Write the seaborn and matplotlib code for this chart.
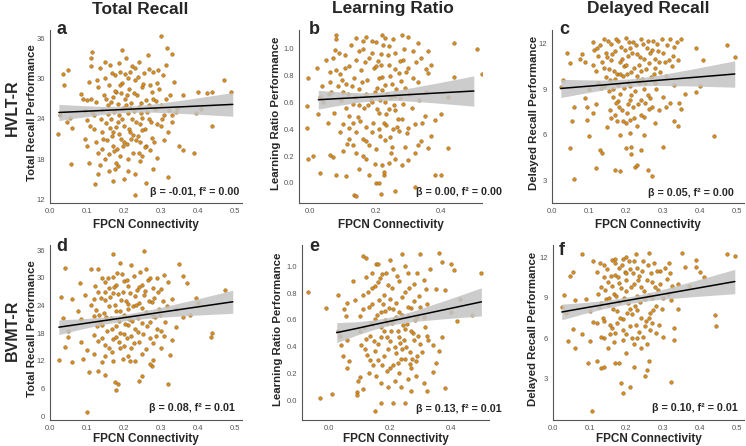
import numpy as np
import pandas as pd
import matplotlib
matplotlib.use("Agg")
import matplotlib.pyplot as plt
from matplotlib.ticker import FormatStrFormatter
import seaborn as sns

# ---- data (FPCN connectivity, performance) ----
hvlt_total = [
    (0.30, 36.3), (0.318, 34.6), (0.115, 34.0), (0.196, 34.2), (0.33, 33.6), (0.05, 31.2), (0.036, 30.6),
    (0.47, 29.7), (0.037, 29.0), (0.49, 28.0), (0.44, 22.9), (0.022, 21.8), (0.045, 23.5), (0.058, 17.3),
    (0.122, 14.3), (0.17, 14.8), (0.23, 12.7), (0.32, 15.4), (0.39, 19.0), (0.36, 19.3), (0.35, 20.0),
    (0.395, 24.8), (0.41, 25.4), (0.36, 27.5), (0.425, 27.8), (0.40, 28.0), (0.44, 28.0), (0.06, 22.7),
    (0.055, 24.2), (0.028, 24.5), (0.085, 27.7), (0.09, 27.0), (0.10, 26.8), (0.095, 25.2), (0.10, 23.8),
    (0.095, 21.0), (0.10, 20.0), (0.105, 17.5), (0.13, 15.8), (0.13, 19.0), (0.15, 18.0), (0.16, 16.2),
    (0.185, 17.0), (0.21, 16.2), (0.23, 15.8), (0.245, 17.8), (0.28, 16.5), (0.29, 18.2), (0.31, 20.8),
    (0.30, 23.0), (0.33, 23.5), (0.345, 25.6), (0.33, 24.5),
    (0.12, 24.5), (0.125, 26.5), (0.13, 28.8), (0.135, 31.5), (0.14, 22.0), (0.142, 25.3), (0.145, 27.6),
    (0.15, 30.0), (0.152, 23.4), (0.155, 20.8), (0.158, 26.0), (0.16, 29.0), (0.162, 32.0), (0.165, 24.0),
    (0.168, 21.5), (0.17, 27.2), (0.172, 25.0), (0.175, 30.5), (0.178, 22.8), (0.18, 28.0), (0.182, 19.5),
    (0.185, 26.2), (0.188, 24.5), (0.19, 31.0), (0.192, 21.0), (0.195, 29.4), (0.198, 25.6), (0.20, 23.0),
    (0.202, 27.0), (0.205, 33.0), (0.208, 20.2), (0.21, 30.0), (0.212, 24.8), (0.215, 28.5), (0.218, 22.0),
    (0.22, 26.4), (0.222, 31.8), (0.225, 19.0), (0.228, 25.2), (0.23, 29.8), (0.232, 23.5), (0.235, 27.5),
    (0.238, 21.5), (0.24, 32.5), (0.242, 25.8), (0.245, 20.5), (0.248, 28.8), (0.25, 24.2), (0.255, 30.8),
    (0.258, 22.5), (0.26, 26.8), (0.265, 33.5), (0.268, 24.0), (0.27, 29.0), (0.275, 21.2), (0.278, 27.0),
    (0.28, 31.0), (0.285, 25.5), (0.29, 23.2), (0.295, 28.5), (0.30, 26.0), (0.305, 30.5), (0.31, 24.5),
    (0.315, 32.0), (0.32, 22.0), (0.325, 27.5), (0.335, 29.5), (0.34, 25.0),
    (0.105, 29.5), (0.11, 31.8), (0.112, 27.0), (0.115, 25.0), (0.118, 22.5), (0.108, 23.0),
    (0.14, 19.5), (0.16, 18.8), (0.17, 20.0), (0.18, 17.5), (0.19, 18.5), (0.20, 20.5), (0.21, 18.0),
    (0.22, 21.0), (0.24, 19.0), (0.25, 18.5), (0.26, 20.0), (0.27, 19.3), (0.125, 20.5), (0.135, 17.2),
    (0.20, 15.0), (0.175, 16.5), (0.26, 14.5),
    (0.112, 33.0), (0.128, 29.8), (0.138, 24.0), (0.148, 32.5), (0.153, 27.0), (0.163, 22.7), (0.167, 30.8),
    (0.173, 19.2), (0.177, 28.2), (0.183, 23.6), (0.187, 32.3), (0.193, 27.8), (0.197, 20.0), (0.203, 30.6),
    (0.207, 26.0), (0.213, 22.5), (0.217, 31.0), (0.223, 24.0), (0.227, 27.9), (0.233, 20.8), (0.237, 30.2),
    (0.243, 23.2), (0.247, 26.3), (0.253, 29.2), (0.257, 19.8), (0.263, 25.0), (0.267, 31.4), (0.273, 23.6),
    (0.277, 28.0), (0.283, 20.6), (0.287, 26.6), (0.293, 31.2), (0.303, 24.0), (0.313, 27.0), (0.323, 25.3),
    (0.143, 21.0), (0.157, 24.7), (0.171, 22.0), (0.189, 29.0), (0.209, 27.6), (0.229, 31.5), (0.249, 22.3),
    (0.269, 26.0), (0.289, 29.3), (0.166, 26.5), (0.196, 24.0), (0.226, 21.6), (0.246, 24.8), (0.186, 21.8),
    (0.216, 25.6),
]
hvlt_ratio = [
    (-0.01, 0.57), (-0.01, 0.41), (-0.005, 0.78), (-0.005, 0.18), (0.01, 0.20), (0.02, 0.86), (0.03, 0.07),
    (0.025, 0.51), (0.03, 0.64), (0.04, 0.60), (0.035, 0.72), (0.06, 0.75), (0.055, 0.45), (0.06, 0.21),
    (0.07, 0.19), (0.08, 0.06), (0.11, 0.05), (0.135, -0.09), (0.14, -0.10), (0.215, -0.08), (0.20, 0.0),
    (0.21, 0.0), (0.26, -0.06), (0.32, -0.03), (0.38, 0.06), (0.40, 0.06), (0.42, 0.26), (0.40, 0.51),
    (0.44, 0.79), (0.44, 1.04), (0.51, 1.0), (0.525, 0.81), (0.42, 0.64), (0.37, 0.35), (0.36, 0.26),
    (0.38, 0.47), (0.37, 0.88), (0.36, 0.98), (0.33, 1.04), (0.30, 1.09), (0.28, 1.10), (0.08, 1.10),
    (0.08, 1.07), (0.14, 1.08), (0.16, 1.06), (0.10, 0.44), (0.09, 0.38), (0.10, 0.24), (0.12, 0.50),
    (0.13, 0.28), (0.14, 0.22), (0.15, 0.10), (0.17, 0.18), (0.18, 0.06), (0.22, 0.13), (0.225, 0.06),
    (0.225, 0.08), (0.24, 0.15), (0.26, 0.18), (0.28, 0.13), (0.30, 0.17), (0.32, 0.22), (0.33, 0.28),
    (0.34, 0.31),
    (0.05, 0.92), (0.06, 0.83), (0.065, 0.68), (0.07, 0.93), (0.075, 0.99), (0.08, 0.84), (0.085, 0.72),
    (0.09, 0.81), (0.095, 0.62), (0.10, 0.68), (0.105, 0.95), (0.11, 0.74), (0.115, 0.66), (0.12, 0.87),
    (0.125, 1.03), (0.13, 0.59), (0.135, 0.78), (0.14, 0.92), (0.145, 0.49), (0.15, 0.70), (0.155, 0.84),
    (0.16, 1.0), (0.165, 0.56), (0.17, 0.42), (0.175, 0.77), (0.18, 0.93), (0.185, 0.62), (0.19, 0.38),
    (0.195, 0.86), (0.20, 1.05), (0.205, 0.71), (0.21, 0.52), (0.215, 0.96), (0.22, 0.79), (0.225, 0.45),
    (0.23, 1.08), (0.235, 0.66), (0.24, 0.88), (0.245, 0.34), (0.25, 0.74), (0.255, 0.58), (0.26, 0.97),
    (0.265, 0.42), (0.27, 0.82), (0.275, 0.63), (0.28, 0.48), (0.285, 0.92), (0.29, 0.71), (0.295, 0.37),
    (0.30, 0.86), (0.31, 0.56), (0.315, 0.98), (0.32, 0.44), (0.33, 0.75), (0.34, 0.93), (0.35, 0.50),
    (0.355, 0.68), (0.36, 0.82),
    (0.17, 1.09), (0.19, 0.97), (0.20, 0.87), (0.21, 0.78), (0.22, 1.10), (0.24, 1.02), (0.26, 0.54),
    (0.18, 0.28), (0.20, 0.25), (0.23, 0.32), (0.16, 0.33), (0.25, 0.27), (0.14, 0.38), (0.12, 0.33),
    (0.27, 0.39), (0.30, 0.41), (0.29, 0.27), (0.21, 0.40), (0.19, 0.60), (0.23, 0.60), (0.17, 0.66),
    (0.26, 0.65), (0.15, 0.58), (0.11, 0.56), (0.22, 0.69), (0.24, 0.55),
    (0.058, 0.66), (0.072, 0.52), (0.088, 0.97), (0.098, 0.77), (0.108, 0.86), (0.118, 0.41), (0.128, 0.72),
    (0.138, 0.64), (0.148, 0.98), (0.158, 0.75), (0.168, 0.90), (0.178, 0.58), (0.188, 1.06), (0.198, 0.68),
    (0.203, 0.55), (0.208, 0.91), (0.213, 0.62), (0.218, 0.88), (0.223, 1.03), (0.228, 0.73), (0.233, 0.51),
    (0.238, 0.95), (0.243, 0.80), (0.248, 0.64), (0.253, 1.07), (0.258, 0.85), (0.263, 0.70), (0.268, 0.48),
    (0.273, 0.91), (0.278, 0.76), (0.283, 0.59), (0.288, 1.0), (0.293, 0.83), (0.303, 0.66), (0.313, 0.78),
    (0.323, 0.90), (0.333, 0.62), (0.343, 0.45), (0.353, 0.85), (0.192, 0.45), (0.172, 0.31), (0.212, 0.35),
    (0.232, 0.43), (0.252, 0.40), (0.152, 0.46), (0.132, 0.45), (0.112, 0.29), (0.162, 0.20), (0.197, 0.14),
    (0.247, 0.22),
]
hvlt_delayed = [
    (0.025, 9.15), (0.03, 9.6), (0.04, 11.4), (0.05, 10.7), (0.05, 5.1), (0.055, 6.9), (0.06, 3.1),
    (0.06, 7.8), (0.095, 7.8), (0.095, 7.0), (0.10, 5.9), (0.12, 3.8), (0.13, 5.0), (0.135, 4.8),
    (0.17, 3.7), (0.185, 3.6), (0.225, 3.9), (0.23, 4.0), (0.26, 3.7), (0.27, 3.3), (0.30, 5.2),
    (0.33, 6.9), (0.34, 6.6), (0.44, 5.9), (0.475, 11.9), (0.495, 11.1), (0.41, 10.9), (0.39, 11.7),
    (0.39, 8.8), (0.40, 9.2), (0.36, 8.7), (0.35, 7.7), (0.345, 8.1), (0.32, 8.1), (0.31, 7.8),
    (0.29, 7.6), (0.28, 6.8), (0.25, 6.0), (0.21, 6.1), (0.215, 5.2), (0.20, 5.1), (0.185, 6.0),
    (0.24, 5.0), (0.215, 4.7), (0.15, 6.5), (0.16, 7.1), (0.11, 7.4), (0.12, 8.0), (0.08, 11.3),
    (0.075, 11.0), (0.09, 10.8), (0.10, 9.0), (0.09, 8.4),
    (0.11, 12.1), (0.115, 11.6), (0.12, 10.2), (0.125, 9.4), (0.13, 11.9), (0.135, 10.8), (0.14, 12.3),
    (0.145, 9.8), (0.15, 11.1), (0.155, 10.3), (0.16, 12.0), (0.165, 9.0), (0.17, 11.5), (0.175, 10.0),
    (0.18, 12.2), (0.185, 8.7), (0.19, 11.0), (0.195, 10.5), (0.20, 12.4), (0.205, 9.5), (0.21, 11.7),
    (0.215, 10.1), (0.22, 12.1), (0.225, 8.9), (0.23, 11.3), (0.235, 10.6), (0.24, 12.3), (0.245, 9.7),
    (0.25, 11.0), (0.255, 10.3), (0.26, 12.2), (0.265, 8.4), (0.27, 11.6), (0.275, 10.0), (0.28, 9.4),
    (0.285, 12.0), (0.29, 10.8), (0.30, 11.4), (0.31, 9.9), (0.32, 12.3), (0.325, 10.5), (0.33, 11.8),
    (0.34, 10.9), (0.35, 12.3), (0.33, 9.3),
    (0.17, 7.3), (0.175, 6.9), (0.18, 8.2), (0.19, 7.6), (0.20, 6.8), (0.205, 8.0), (0.21, 7.0),
    (0.22, 7.8), (0.23, 6.6), (0.24, 8.3), (0.25, 7.2), (0.26, 8.6), (0.27, 7.8), (0.165, 8.5),
    (0.155, 8.9), (0.14, 9.2), (0.195, 9.1), (0.235, 9.4), (0.215, 8.6), (0.185, 10.0), (0.16, 10.9),
    (0.20, 10.6), (0.23, 9.9), (0.25, 9.0), (0.17, 9.7), (0.28, 10.4), (0.30, 8.5), (0.125, 11.2),
    (0.145, 11.4), (0.205, 11.2), (0.265, 11.4),
    (0.112, 10.6), (0.122, 11.7), (0.132, 9.1), (0.142, 10.4), (0.152, 12.2), (0.158, 9.6), (0.163, 11.3),
    (0.168, 10.2), (0.173, 12.3), (0.178, 9.3), (0.183, 10.8), (0.188, 11.8), (0.193, 9.9), (0.198, 11.6),
    (0.203, 10.0), (0.208, 12.1), (0.212, 9.2), (0.217, 11.4), (0.222, 10.4), (0.227, 11.9), (0.232, 9.6),
    (0.237, 11.1), (0.242, 10.2), (0.247, 12.0), (0.252, 9.4), (0.257, 11.7), (0.262, 10.7), (0.268, 9.8),
    (0.273, 12.2), (0.278, 11.0), (0.283, 9.0), (0.288, 11.5), (0.293, 10.1), (0.298, 12.3), (0.305, 10.8),
    (0.312, 11.9), (0.318, 10.9), (0.328, 11.2), (0.338, 12.1), (0.182, 7.8), (0.192, 6.9), (0.202, 7.4),
    (0.212, 8.3), (0.222, 7.1), (0.232, 8.0), (0.242, 7.3), (0.252, 8.1), (0.262, 7.7), (0.172, 8.1),
    (0.158, 7.6),
]
bvmt_total = [
    (0.025, 12.3), (0.03, 25.8), (0.035, 21.2), (0.04, 32.2), (0.04, 15.0), (0.05, 17.2), (0.05, 18.4),
    (0.06, 25.3), (0.06, 11.7), (0.075, 22.8), (0.08, 28.9), (0.085, 21.1), (0.085, 16.0), (0.10, 0.9),
    (0.09, 12.5), (0.095, 26.3), (0.10, 14.3), (0.11, 31.9), (0.105, 9.7), (0.17, 35.2), (0.255, 35.7),
    (0.18, 5.6), (0.175, 7.5), (0.185, 6.9), (0.24, 7.6), (0.25, 8.8), (0.32, 6.9), (0.15, 9.0),
    (0.13, 9.8), (0.275, 11.0), (0.23, 11.9), (0.27, 11.3), (0.325, 13.2), (0.34, 19.3), (0.36, 21.6),
    (0.38, 22.0), (0.395, 25.7), (0.40, 24.6), (0.37, 28.8), (0.36, 30.4), (0.35, 32.9), (0.435, 17.2),
    (0.44, 18.0), (0.475, 27.3), (0.32, 29.0), (0.31, 30.6), (0.30, 27.5), (0.33, 25.5), (0.34, 23.2),
    (0.33, 16.5), (0.31, 17.5), (0.30, 14.9), (0.29, 19.0), (0.28, 12.2), (0.26, 14.5), (0.21, 13.1),
    (0.20, 15.3), (0.19, 14.8), (0.17, 12.0), (0.16, 14.9), (0.14, 11.8), (0.12, 13.5), (0.12, 17.7),
    (0.13, 16.3),
    (0.12, 25.5), (0.125, 23.0), (0.13, 27.0), (0.135, 20.5), (0.14, 29.9), (0.145, 22.3), (0.15, 25.2),
    (0.155, 18.5), (0.16, 27.8), (0.165, 21.3), (0.17, 30.2), (0.175, 24.0), (0.18, 19.5), (0.185, 26.5),
    (0.19, 22.7), (0.195, 30.8), (0.20, 17.8), (0.205, 25.0), (0.21, 28.3), (0.215, 21.0), (0.22, 32.8),
    (0.225, 23.8), (0.23, 19.0), (0.235, 27.3), (0.24, 24.5), (0.245, 31.3), (0.25, 20.3), (0.255, 26.2),
    (0.26, 22.5), (0.265, 29.5), (0.27, 17.0), (0.275, 24.8), (0.28, 27.8), (0.285, 21.5), (0.29, 30.0),
    (0.295, 23.2), (0.30, 18.5), (0.18, 28.5), (0.16, 23.8), (0.20, 22.0), (0.22, 17.3), (0.24, 16.0),
    (0.14, 17.0), (0.15, 15.5), (0.17, 16.8), (0.19, 18.0), (0.21, 19.8), (0.23, 26.0), (0.25, 28.5),
    (0.15, 29.0), (0.19, 33.2), (0.13, 31.8), (0.20, 29.4), (0.26, 31.8), (0.21, 24.3), (0.17, 26.7),
    (0.12, 21.8), (0.28, 15.8), (0.27, 20.5), (0.22, 14.8),
    (0.112, 24.0), (0.122, 28.2), (0.132, 22.0), (0.138, 25.7), (0.142, 19.8), (0.148, 27.0), (0.152, 21.5),
    (0.158, 30.0), (0.162, 25.8), (0.168, 19.0), (0.172, 28.0), (0.178, 22.8), (0.182, 31.0), (0.188, 20.6),
    (0.192, 25.2), (0.198, 27.0), (0.202, 20.0), (0.208, 29.5), (0.212, 23.3), (0.218, 26.8), (0.222, 20.6),
    (0.228, 30.4), (0.232, 24.0), (0.238, 21.2), (0.242, 28.0), (0.248, 23.5), (0.252, 17.8), (0.258, 27.2),
    (0.262, 19.5), (0.268, 25.0), (0.272, 30.0), (0.278, 21.8), (0.282, 25.6), (0.288, 17.5), (0.292, 27.0),
    (0.298, 22.0), (0.305, 25.0), (0.312, 20.5), (0.318, 23.8), (0.188, 16.0), (0.208, 17.0), (0.228, 15.8),
    (0.248, 13.5), (0.168, 14.0), (0.148, 13.0), (0.128, 19.5), (0.198, 12.5), (0.238, 18.3), (0.178, 17.2),
    (0.218, 12.0),
]
bvmt_ratio = [
    (-0.07, 0.81), (-0.01, 0.69), (-0.03, 0.02), (0.01, 0.05), (0.03, 0.52), (0.03, 0.79), (0.035, 0.48),
    (0.04, 0.41), (0.045, 0.33), (0.05, 0.68), (0.055, 0.63), (0.06, 0.73), (0.06, 0.45), (0.06, 0.24),
    (0.065, 0.29), (0.08, 0.89), (0.085, 0.75), (0.09, 0.06), (0.09, 0.04), (0.095, 0.14), (0.10, 0.17),
    (0.11, 0.08), (0.11, 1.08), (0.12, 1.06), (0.15, -0.08), (0.17, -0.02), (0.21, -0.02), (0.25, -0.02),
    (0.50, 0.95), (0.47, 0.64), (0.43, 0.76), (0.42, 0.59), (0.41, 0.97), (0.40, 1.02), (0.37, 1.03),
    (0.36, 1.10), (0.38, 0.09), (0.37, 0.47), (0.34, 0.21), (0.35, 0.28), (0.31, 0.13), (0.32, 0.07),
    (0.27, 0.07), (0.26, 0.16), (0.30, 1.09), (0.24, 1.09), (0.20, 1.05), (0.35, 0.83), (0.38, 0.82),
    (0.40, 0.66), (0.36, 0.37), (0.34, 0.41), (0.32, 0.48),
    (0.10, 0.63), (0.105, 0.41), (0.11, 0.79), (0.115, 0.55), (0.12, 0.92), (0.125, 0.34), (0.13, 0.70),
    (0.135, 0.48), (0.14, 0.84), (0.145, 0.26), (0.15, 0.61), (0.155, 1.02), (0.16, 0.42), (0.165, 0.75),
    (0.17, 0.55), (0.175, 0.94), (0.18, 0.33), (0.185, 0.67), (0.19, 0.47), (0.195, 0.86), (0.20, 0.24),
    (0.205, 0.58), (0.21, 0.98), (0.215, 0.40), (0.22, 0.73), (0.225, 0.52), (0.23, 0.89), (0.235, 0.31),
    (0.24, 0.64), (0.245, 0.45), (0.25, 0.81), (0.255, 0.57), (0.26, 0.95), (0.265, 0.36), (0.27, 0.69),
    (0.275, 0.50), (0.28, 0.87), (0.285, 0.29), (0.29, 0.62), (0.295, 0.78), (0.30, 0.42), (0.31, 0.90),
    (0.315, 0.55), (0.32, 0.72), (0.33, 0.98), (0.14, 0.57), (0.16, 0.88), (0.18, 0.79), (0.20, 0.44),
    (0.22, 0.62), (0.24, 0.38), (0.26, 0.70), (0.13, 0.20), (0.17, 0.13), (0.19, 0.22), (0.21, 0.26),
    (0.23, 0.20), (0.25, 0.31), (0.27, 0.24), (0.12, 0.46), (0.15, 0.37), (0.17, 0.66), (0.19, 0.58),
    (0.21, 0.68), (0.23, 0.47), (0.25, 0.53), (0.28, 0.45), (0.29, 0.33), (0.16, 1.02), (0.14, 0.95),
    (0.18, 0.52), (0.20, 0.76),
    (0.102, 0.52), (0.112, 0.68), (0.118, 0.38), (0.128, 0.81), (0.138, 0.58), (0.142, 0.72), (0.148, 0.44),
    (0.152, 0.85), (0.158, 0.64), (0.162, 0.30), (0.168, 0.91), (0.172, 0.47), (0.178, 0.72), (0.182, 0.60),
    (0.188, 0.95), (0.192, 0.38), (0.198, 0.69), (0.202, 0.52), (0.208, 0.84), (0.212, 0.61), (0.218, 0.35),
    (0.222, 0.93), (0.228, 0.66), (0.232, 0.43), (0.238, 0.77), (0.242, 0.56), (0.248, 1.0), (0.252, 0.40),
    (0.258, 0.63), (0.262, 0.84), (0.268, 0.52), (0.272, 0.31), (0.278, 0.74), (0.282, 0.60), (0.288, 0.95),
    (0.292, 0.48), (0.298, 0.70), (0.305, 0.36), (0.312, 0.62), (0.318, 0.83), (0.325, 0.45), (0.175, 0.26),
    (0.215, 0.14), (0.235, 0.10), (0.195, 0.10), (0.155, 0.18), (0.265, 0.27), (0.285, 0.18), (0.135, 0.30),
    (0.225, 0.28),
]
bvmt_delayed = [
    (0.025, 8.3), (0.03, 9.2), (0.035, 7.9), (0.04, 5.8), (0.045, 10.6), (0.055, 10.9), (0.06, 5.3),
    (0.055, 6.7), (0.06, 8.8), (0.08, 12.2), (0.08, 6.3), (0.09, 8.9), (0.095, 4.2), (0.10, 5.8),
    (0.105, 0.6), (0.11, 11.7), (0.12, 4.3), (0.13, 3.8), (0.14, 3.9), (0.17, 4.2), (0.18, 4.2),
    (0.185, 2.7), (0.19, 2.0), (0.21, 2.4), (0.20, 4.9), (0.22, 3.9), (0.25, 3.2), (0.255, 3.7),
    (0.26, 4.3), (0.32, 2.8), (0.475, 12.2), (0.495, 12.1), (0.44, 7.7), (0.445, 6.9), (0.39, 11.8),
    (0.39, 11.3), (0.41, 10.5), (0.40, 10.9), (0.35, 12.3), (0.34, 8.2), (0.33, 6.8), (0.33, 5.9),
    (0.34, 10.0), (0.37, 9.9), (0.36, 11.3), (0.30, 6.1), (0.28, 6.4), (0.27, 7.1), (0.24, 5.3),
    (0.23, 6.0), (0.15, 5.3), (0.14, 6.0), (0.16, 6.8), (0.12, 7.1), (0.13, 6.1), (0.11, 7.2), (0.10, 8.0),
    (0.12, 10.9), (0.125, 8.3), (0.13, 9.8), (0.135, 7.5), (0.14, 11.4), (0.145, 8.9), (0.15, 10.2),
    (0.155, 7.0), (0.16, 11.8), (0.165, 9.3), (0.17, 10.7), (0.175, 8.0), (0.18, 11.2), (0.185, 9.7),
    (0.19, 7.4), (0.195, 10.9), (0.20, 12.0), (0.205, 8.6), (0.21, 11.1), (0.215, 7.8), (0.22, 10.0),
    (0.225, 12.2), (0.23, 9.1), (0.235, 10.6), (0.24, 7.5), (0.245, 11.7), (0.25, 8.9), (0.255, 10.3),
    (0.26, 12.3), (0.265, 7.9), (0.27, 10.2), (0.275, 11.6), (0.28, 8.4), (0.285, 9.6), (0.29, 11.0),
    (0.30, 9.0), (0.31, 10.4), (0.315, 11.6), (0.32, 8.8), (0.325, 9.9), (0.17, 6.4), (0.19, 5.9),
    (0.21, 6.9), (0.22, 5.6), (0.18, 8.7), (0.20, 9.5), (0.16, 9.9), (0.15, 8.5), (0.23, 8.1),
    (0.25, 6.9), (0.26, 7.5), (0.14, 7.3), (0.20, 10.8), (0.22, 11.7), (0.24, 9.8), (0.18, 10.1),
    (0.21, 8.2), (0.27, 9.0), (0.17, 11.6), (0.19, 11.9),
    (0.122, 9.3), (0.128, 11.6), (0.132, 8.6), (0.138, 10.5), (0.142, 9.6), (0.148, 11.1), (0.152, 9.0),
    (0.158, 10.6), (0.162, 8.2), (0.168, 11.9), (0.172, 9.1), (0.178, 10.5), (0.182, 7.5), (0.188, 11.4),
    (0.192, 9.0), (0.198, 10.3), (0.202, 7.9), (0.208, 11.7), (0.212, 9.8), (0.218, 10.8), (0.222, 8.4),
    (0.228, 11.2), (0.232, 10.3), (0.238, 8.7), (0.242, 11.0), (0.248, 9.5), (0.252, 7.3), (0.258, 11.4),
    (0.262, 9.2), (0.268, 10.8), (0.272, 8.1), (0.278, 9.8), (0.282, 11.0), (0.288, 7.0), (0.292, 10.0),
    (0.298, 8.2), (0.305, 11.2), (0.312, 9.3), (0.318, 10.8), (0.19, 6.6), (0.20, 6.3), (0.215, 6.0),
    (0.225, 7.0), (0.235, 6.5), (0.245, 6.1), (0.255, 5.6), (0.165, 5.7), (0.175, 7.1), (0.155, 6.3),
    (0.265, 6.6),
]

# regression line + 95% band
fit_x_a = [0.024, 0.08, 0.14, 0.21, 0.28, 0.38, 0.495]
fit_y_a = [24.95, 25.09, 25.24, 25.42, 25.60, 25.85, 26.15]
lo_a = [23.75, 24.19, 24.63, 24.97, 24.99, 24.74, 24.39]
hi_a = [26.15, 25.99, 25.85, 25.87, 26.21, 26.96, 27.91]

fit_x_b = [0.025, 0.09, 0.15, 0.21, 0.28, 0.38, 0.50]
fit_y_b = [0.620, 0.629, 0.637, 0.645, 0.655, 0.669, 0.685]
lo_b = [0.550, 0.579, 0.602, 0.615, 0.613, 0.597, 0.572]
hi_b = [0.690, 0.679, 0.672, 0.675, 0.697, 0.741, 0.798]

fit_x_c = [0.024, 0.08, 0.14, 0.21, 0.28, 0.38, 0.495]
fit_y_c = [9.05, 9.16, 9.28, 9.43, 9.57, 9.77, 10.0]
lo_c = [8.45, 8.70, 8.96, 9.18, 9.25, 9.21, 9.13]
hi_c = [9.65, 9.62, 9.60, 9.68, 9.89, 10.33, 10.87]

fit_x_d = [0.024, 0.08, 0.14, 0.21, 0.28, 0.38, 0.495]
fit_y_d = [19.30, 19.95, 20.65, 21.47, 22.29, 23.46, 24.80]
lo_d = [17.70, 18.80, 19.85, 20.77, 21.34, 21.86, 22.30]
hi_d = [20.90, 21.10, 21.45, 22.17, 23.24, 25.06, 27.30]

fit_x_e = [0.025, 0.09, 0.15, 0.21, 0.28, 0.38, 0.50]
fit_y_e = [0.505, 0.536, 0.566, 0.595, 0.629, 0.677, 0.735]
lo_e = [0.430, 0.486, 0.531, 0.565, 0.589, 0.609, 0.630]
hi_e = [0.580, 0.586, 0.601, 0.625, 0.669, 0.745, 0.840]

fit_x_f = [0.024, 0.08, 0.14, 0.21, 0.28, 0.38, 0.495]
fit_y_f = [7.95, 8.22, 8.50, 8.84, 9.17, 9.65, 10.20]
lo_f = [7.37, 7.80, 8.20, 8.59, 8.85, 9.08, 9.30]
hi_f = [8.53, 8.64, 8.80, 9.09, 9.49, 10.22, 11.10]

col_titles = ["Total Recall", "Learning Ratio", "Delayed Recall"]
row_titles = ["HVLT-R", "BVMT-R"]
y_labels = ["Total Recall Performance", "Learning Ratio Performance", "Delayed Recall Performance"]
stats = ["β = -0.01, f² = 0.00", "β = 0.00, f² = 0.00", "β = 0.05, f² = 0.00",
         "β = 0.08, f² = 0.01", "β = 0.13, f² = 0.01", "β = 0.10, f² = 0.01"]
letters = ["a", "b", "c", "d", "e", "f"]

sns.set_style("white")
plt.rcParams["font.family"] = ["Liberation Sans", "DejaVu Sans"]

W, H = 746, 446
fig = plt.figure(figsize=(W / 100, H / 100), dpi=100)

def box(l, r, t, b):
    return [l / W, 1 - b / H, (r - l) / W, (b - t) / H]

panels = [
    dict(pts=hvlt_total, fx=fit_x_a, fy=fit_y_a, lo=lo_a, hi=hi_a, pos=box(50, 242, 30, 203),
         xlim=(0.0, 0.52), xt=[0, .1, .2, .3, .4, .5], ylim=(11.5, 37.2), yt=[12, 18, 24, 30, 36], yfmt=None,
         ylx=-0.068, sx=0.985, sy=0.064, lx=0.036, ly=1.0),
    dict(pts=hvlt_ratio, fx=fit_x_b, fy=fit_y_b, lo=lo_b, hi=hi_b, pos=box(299, 482, 30, 203),
         xlim=(-0.034, 0.525), xt=[0, .2, .4], ylim=(-0.15, 1.14), yt=[0, .2, .4, .6, .8, 1.0], yfmt="%.1f",
         ylx=-0.10, sx=1.11, sy=0.064, lx=0.055, ly=1.0),
    dict(pts=hvlt_delayed, fx=fit_x_c, fy=fit_y_c, lo=lo_c, hi=hi_c, pos=box(552, 744, 30, 203),
         xlim=(0.0, 0.52), xt=[0, .1, .2, .3, .4, .5], ylim=(1.5, 12.9), yt=[3, 6, 9, 12], yfmt=None,
         ylx=-0.066, sx=0.948, sy=0.058, lx=0.04, ly=1.0),
    dict(pts=bvmt_total, fx=fit_x_d, fy=fit_y_d, lo=lo_d, hi=hi_d, pos=box(50, 242, 245, 420),
         xlim=(0.0, 0.52), xt=[0, .1, .2, .3, .4, .5], ylim=(-0.8, 37.1), yt=[0, 6, 12, 18, 24, 30, 36], yfmt=None,
         ylx=-0.068, sx=0.963, sy=0.069, lx=0.03, ly=0.99),
    dict(pts=bvmt_ratio, fx=fit_x_e, fy=fit_y_e, lo=lo_e, hi=hi_e, pos=box(302, 489, 245, 420),
         xlim=(-0.089, 0.525), xt=[0, .2, .4], ylim=(-0.148, 1.16), yt=[0, .2, .4, .6, .8, 1.0], yfmt="%.1f",
         ylx=-0.10, sx=1.07, sy=0.063, lx=0.04, ly=0.99),
    dict(pts=bvmt_delayed, fx=fit_x_f, fy=fit_y_f, lo=lo_f, hi=hi_f, pos=box(553, 744, 245, 420),
         xlim=(0.0, 0.52), xt=[0, .1, .2, .3, .4, .5], ylim=(-0.03, 12.9), yt=[3, 6, 9, 12], yfmt=None,
         ylx=-0.08, sx=0.969, sy=0.069, lx=0.03, ly=0.97),
]

for i, p in enumerate(panels):
    ax = fig.add_axes(p["pos"])
    df = pd.DataFrame(p["pts"], columns=["fpcn", "perf"])
    sns.scatterplot(data=df, x="fpcn", y="perf", ax=ax, s=7, color="#E08B0C",
                    edgecolor="#505050", linewidth=0.25, zorder=2)
    ax.fill_between(p["fx"], p["lo"], p["hi"], color="#c4c4c4", alpha=0.85, lw=0, zorder=3)
    sns.lineplot(x=p["fx"], y=p["fy"], ax=ax, color="black", lw=1.1, zorder=4)

    ax.set_xlim(*p["xlim"])
    ax.set_ylim(*p["ylim"])
    ax.set_xticks(p["xt"])
    ax.set_yticks(p["yt"])
    ax.xaxis.set_major_formatter(FormatStrFormatter("%.1f"))
    if p["yfmt"]:
        ax.yaxis.set_major_formatter(FormatStrFormatter(p["yfmt"]))
    ax.tick_params(labelsize=5.5, labelcolor="#555555", color="#555555", length=2, width=0.5, pad=1.5)
    for side in ["top", "right"]:
        ax.spines[side].set_visible(False)
    for side in ["left", "bottom"]:
        ax.spines[side].set_color("#555555")
        ax.spines[side].set_linewidth(0.8)

    ax.set_xlabel("FPCN Connectivity", fontsize=8.5, fontweight="bold")
    ax.xaxis.set_label_coords(0.5, -0.092 if i < 3 else -0.074)
    ax.set_ylabel(y_labels[i % 3], fontsize=8.2, fontweight="bold")
    ax.yaxis.set_label_coords(p["ylx"], 0.52)

    ax.text(p["sx"], p["sy"], stats[i], transform=ax.transAxes, ha="right", va="center",
            fontsize=7.7, fontweight="bold", clip_on=False, zorder=5)
    ax.text(p["lx"], p["ly"], letters[i], transform=ax.transAxes, ha="left", va="center",
            fontsize=13, fontweight="bold", zorder=5)

# column and row headers
for j, t in enumerate(col_titles):
    cx = [140, 393, 648][j]
    fig.text(cx / W, 1 - 9 / H, t, ha="center", va="center", fontsize=12.5, fontweight="bold")
for j, t in enumerate(row_titles):
    cy = [108, 330][j]
    fig.text(12 / W, 1 - cy / H, t, ha="center", va="center", rotation=90, fontsize=11.5, fontweight="bold")

fig.savefig("out.png", dpi=100)
